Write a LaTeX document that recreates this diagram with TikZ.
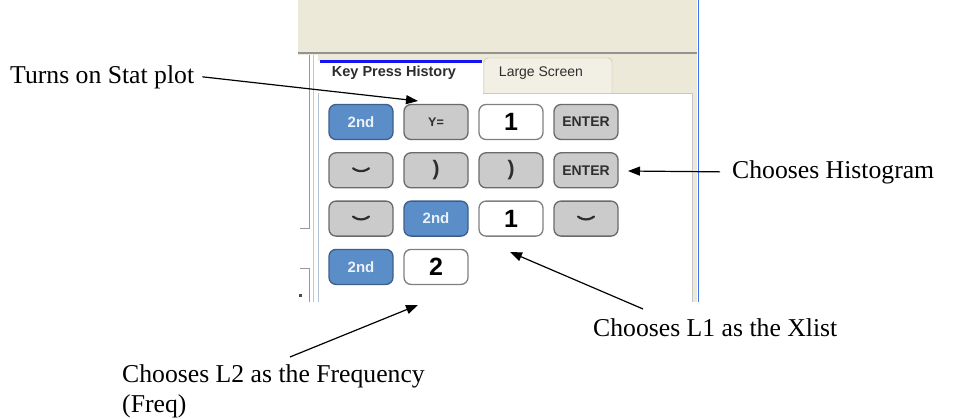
\documentclass[tikz,border=0pt]{standalone}
\usepackage{fontspec}
\setmainfont{Liberation Serif}
\setsansfont{Liberation Sans}
\usetikzlibrary{arrows.meta, positioning}

\definecolor{panelbeige}{HTML}{ECE9D8}
\definecolor{tabline}{HTML}{BDB9A8}
\definecolor{paneledge}{HTML}{B4C2D6}
\definecolor{keyblue}{HTML}{5B8DC9}
\definecolor{keyblueline}{HTML}{3D5F8A}
\definecolor{keygray}{HTML}{CBCBCB}
\definecolor{keygrayline}{HTML}{6A6A6A}
\definecolor{keyink}{HTML}{2E2E2E}
\definecolor{winblue}{HTML}{3F73F5}
\definecolor{tabblue}{HTML}{1414F0}

\begin{document}
\begin{tikzpicture}[x=1pt, y=-1pt,
	node distance=12pt and 9.7pt,
	key/.style = {rounded corners=7pt, line width=1.3pt, minimum width=64pt, minimum height=35pt, inner sep=0pt},
	bluekey/.style = {key, draw=keyblueline, fill=keyblue, text=white!88!keyblue,
		font=\sffamily\bfseries\fontsize{15}{15}\selectfont},
	graykey/.style = {key, draw=keygrayline, fill=keygray, text=keyink,
		font=\sffamily\bfseries\fontsize{14}{14}\selectfont},
	smallkey/.style = {graykey, font=\sffamily\bfseries\fontsize{12.5}{12.5}\selectfont},
	parenkey/.style = {graykey, font=\sffamily\bfseries\fontsize{21}{21}\selectfont},
	whitekey/.style = {key, draw=gray, fill=white, text=black,
		font=\sffamily\bfseries\fontsize{25}{25}\selectfont},
	downkey/.style = {graykey, path picture={
		\draw[line width=2.2pt, keyink, line cap=round, line join=round]
		([shift={(-8pt,2pt)}]path picture bounding box.center) --
		([shift={(0pt,-3pt)}]path picture bounding box.center) --
		([shift={(8pt,2pt)}]path picture bounding box.center);}},
	tabtext/.style = {inner sep=0pt, font=\sffamily\fontsize{14}{14}\selectfont, text=keyink},
	note/.style = {inner sep=0pt, align=left, font=\fontsize{25.7}{30}\selectfont},
	callout/.style = {line width=1.2pt, -{Triangle[length=12pt, width=9pt]}}
	]
	\useasboundingbox (0,0) rectangle (953,418);
%
	% window behind the keys
	\fill[panelbeige] (298,0) rectangle (697,302);
	\fill[white] (298,55) rectangle (318,302);
	\draw[line width=2.5pt, gray!85] (298,53) -- (697,53);
	\fill[white] (318,93) rectangle (692,302);
	\draw[paneledge] (318,93) -- (318,302);
	\draw[gray!45] (483,93) -- (692,93) -- (692,302);
	\draw[gray!80, line width=1pt] (300,228) -- (309,228) -- (309,55);
	\draw[gray!80, line width=1pt] (300,268) -- (309,268) -- (309,302);
	\draw[gray!45] (313,55) -- (313,302);
	\fill[black!70] (299,294) rectangle (302,297);
	\draw[winblue, line width=1.5pt] (698.5,0) -- (698.5,302);
%
	% tabs
	\fill[white] (318,61) rectangle (483,93);
	\fill[tabblue] (320,60) rectangle (482,63);
	\draw[tabline, fill=panelbeige!70!white, rounded corners=4pt]
		(484,93) -- (484,58) -- (612,58) -- (612,93);
	\node[tabtext, font=\sffamily\bfseries\fontsize{14.5}{14.5}\selectfont] (histtab) at (394,73) {Key Press History};
	\node[tabtext] (largetab) at (541,73) {Large Screen};
%
	% key press history
	\node[bluekey] (k11) at (361,122) {2nd};
	\node[smallkey, right=of k11] (k12) {Y=};
	\node[whitekey, right=of k12] (k13) {1};
	\node[graykey, right=of k13] (k14) {ENTER};
	\node[downkey, below=of k11] (k21) {};
	\node[parenkey, right=of k21] (k22) {)};
	\node[parenkey, right=of k22] (k23) {)};
	\node[graykey, right=of k23] (k24) {ENTER};
	\node[downkey, below=of k21] (k31) {};
	\node[bluekey, right=of k31] (k32) {2nd};
	\node[whitekey, right=of k32] (k33) {1};
	\node[downkey, right=of k33] (k34) {};
	\node[bluekey, below=of k31] (k41) {2nd};
	\node[whitekey, right=of k41] (k42) {2};
%
	% notes
	\node[note, anchor=base west] (statnote) at (10,83) {Turns on Stat plot};
	\node[note, anchor=base west] (histnote) at (732,178) {Chooses Histogram};
	\node[note, anchor=base west] (xlistnote) at (593,336) {Chooses L1 as the Xlist};
	\node[note, anchor=base west] (freqnote) at (122,412) {Chooses L2 as the Frequency\\(Freq)};
%
	\coordinate (tipY) at (418,101);
	\coordinate (tipEnter) at (628,171);
	\coordinate (tipOne) at (510,252);
	\coordinate (tipTwo) at (418,305);
%
	\draw[callout] ([xshift=8pt]statnote.east) -- (tipY);
	\draw[callout] ([xshift=-12pt]histnote.west) -- (tipEnter);
	\draw[callout] ([xshift=50pt, yshift=9pt]xlistnote.north west) -- (tipOne);
	\draw[callout] ([xshift=168pt, yshift=7pt]freqnote.north west) -- (tipTwo);
\end{tikzpicture}
\end{document}
